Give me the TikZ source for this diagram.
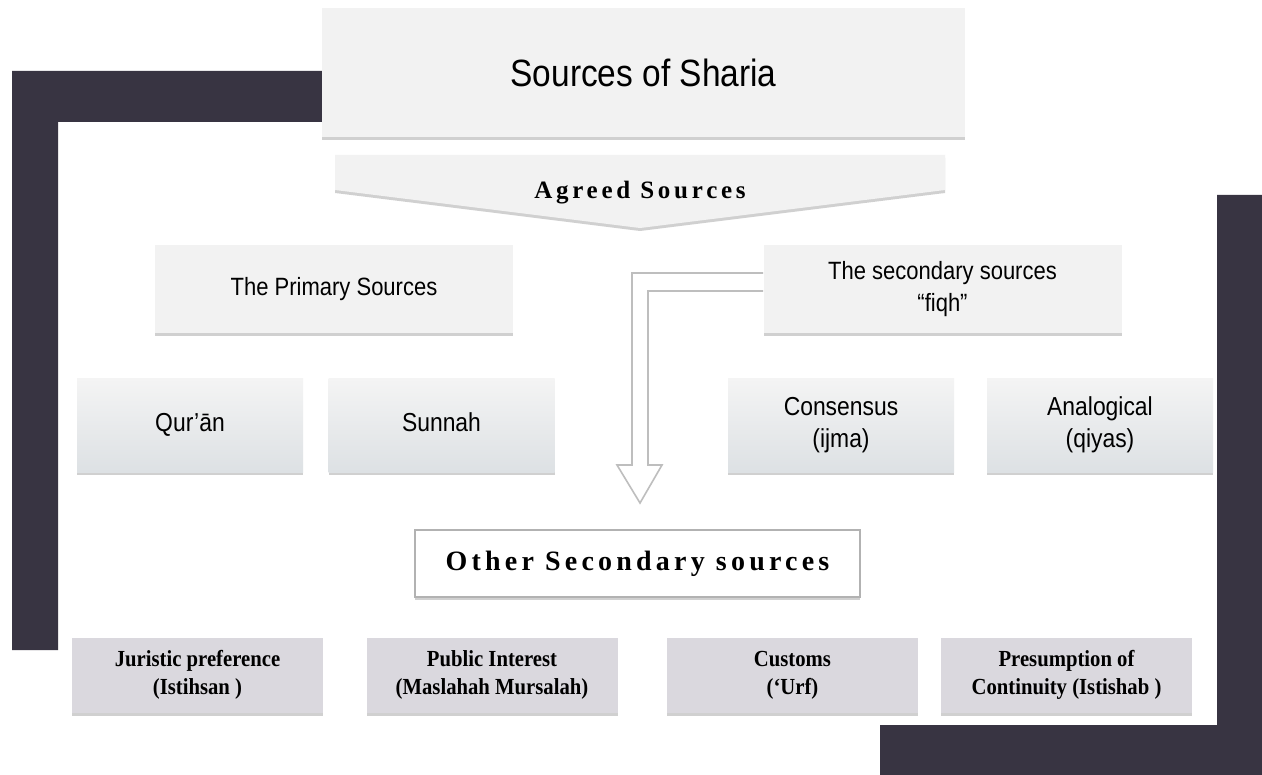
\documentclass[tikz,border=0pt]{standalone}
\usepackage{fontspec}
\usetikzlibrary{calc,shadows}
\newfontfamily\narrowsf[FakeStretch=0.88]{Liberation Sans}
\newfontfamily\spacedrm[LetterSpace=15]{Liberation Serif}
\newfontfamily\condrm[FakeStretch=0.9]{Liberation Serif}
\definecolor{barcolor}{RGB}{56,52,66}
\definecolor{boxgray}{RGB}{242,242,242}
\definecolor{sourcetop}{RGB}{244,244,244}
\definecolor{sourcebottom}{RGB}{221,225,228}
\definecolor{methodgray}{RGB}{218,216,222}
\definecolor{arrowgray}{RGB}{190,190,190}

\begin{document}
\begin{tikzpicture}[x=0.5pt,y=-0.5pt,
  softshadow/.style={drop shadow={shadow xshift=0pt,shadow yshift=-1.5pt,opacity=0.3,fill=black!60}},
  titlebox/.style={softshadow,fill=boxgray,inner sep=0pt,minimum width=321.5pt,minimum height=64.5pt,font=\narrowsf\fontsize{19}{23}\selectfont},
  levelbox/.style={softshadow,fill=boxgray,inner sep=0pt,align=center,minimum width=179pt,minimum height=44pt,font=\narrowsf\fontsize{12.5}{16}\selectfont},
  sourcebox/.style={softshadow,top color=sourcetop,bottom color=sourcebottom,inner sep=0pt,align=center,minimum width=113pt,minimum height=47pt,font=\narrowsf\fontsize{13}{16}\selectfont},
  otherbox/.style={softshadow,fill=white,draw=black!30,line width=0.6pt,inner sep=0pt,minimum width=222.5pt,minimum height=33.5pt,font=\spacedrm\bfseries\fontsize{14}{17}\selectfont},
  methodbox/.style={softshadow,fill=methodgray,inner sep=0pt,align=center,minimum width=125.5pt,minimum height=37.5pt,font=\condrm\bfseries\fontsize{11.5}{14}\selectfont},
  darkbar/.style={fill=barcolor},
  arrowline/.style={draw=arrowgray,fill=white,line width=0.8pt,line join=miter}]
\useasboundingbox (0,0) rectangle (1262,775);
\fill[white] (0,0) rectangle (1262,775);
% corner bars
\path[darkbar] (12,71) -- (330,71) -- (330,122) -- (58,122) -- (58,650) -- (12,650) -- cycle;
\path[darkbar] (1262,195) -- (1217,195) -- (1217,725) -- (880,725) -- (880,775) -- (1262,775) -- cycle;
% heading and agreed sources
\node[titlebox] (title) at (643.5,72.5) {Sources of Sharia};
\path[softshadow,fill=boxgray] (335,155) -- (945,155) -- (945,190) -- (640,228) -- (335,190) -- cycle;
\node[font=\spacedrm\bfseries\fontsize{12.5}{15}\selectfont] (agreed) at (640,193) {Agreed Sources};
% primary and secondary
\node[levelbox] (prim) at (334,289) {The Primary Sources};
\node[levelbox] (sec) at (942.5,289) {The secondary sources\\“fiqh”};
\node[sourcebox,text height=9.5pt,text depth=3pt] (quran) at (190,425) {Qur’ān};
\node[sourcebox,text height=9.5pt,text depth=3pt] (sunnah) at (441.5,425) {Sunnah};
\node[sourcebox] (cons) at (841,425) {Consensus\\(ijma)};
\node[sourcebox] (anal) at (1100,425) {Analogical\\(qiyas)};
% other secondary sources
\node[otherbox] (other) at (637.5,563.5) {Other Secondary sources};
\coordinate (tip) at (640,503);
\draw[arrowline] ($(sec.west)+(0,-16)$) -| ($(tip)+(-8,-38)$) -- ++(-15,0) -- (tip) -- ++(22,-38) -- ++(-14,0) |- ($(sec.west)+(0,2)$);
\node[methodbox] (istihsan) at (197.5,675) {Juristic preference\\(Istihsan )};
\node[methodbox] (maslahah) at (492,675) {Public Interest\\(Maslahah Mursalah)};
\node[methodbox] (urf) at (792.5,675) {Customs\\(‘Urf)};
\node[methodbox] (istishab) at (1066.5,675) {Presumption of\\Continuity (Istishab )};
\end{tikzpicture}
\end{document}
